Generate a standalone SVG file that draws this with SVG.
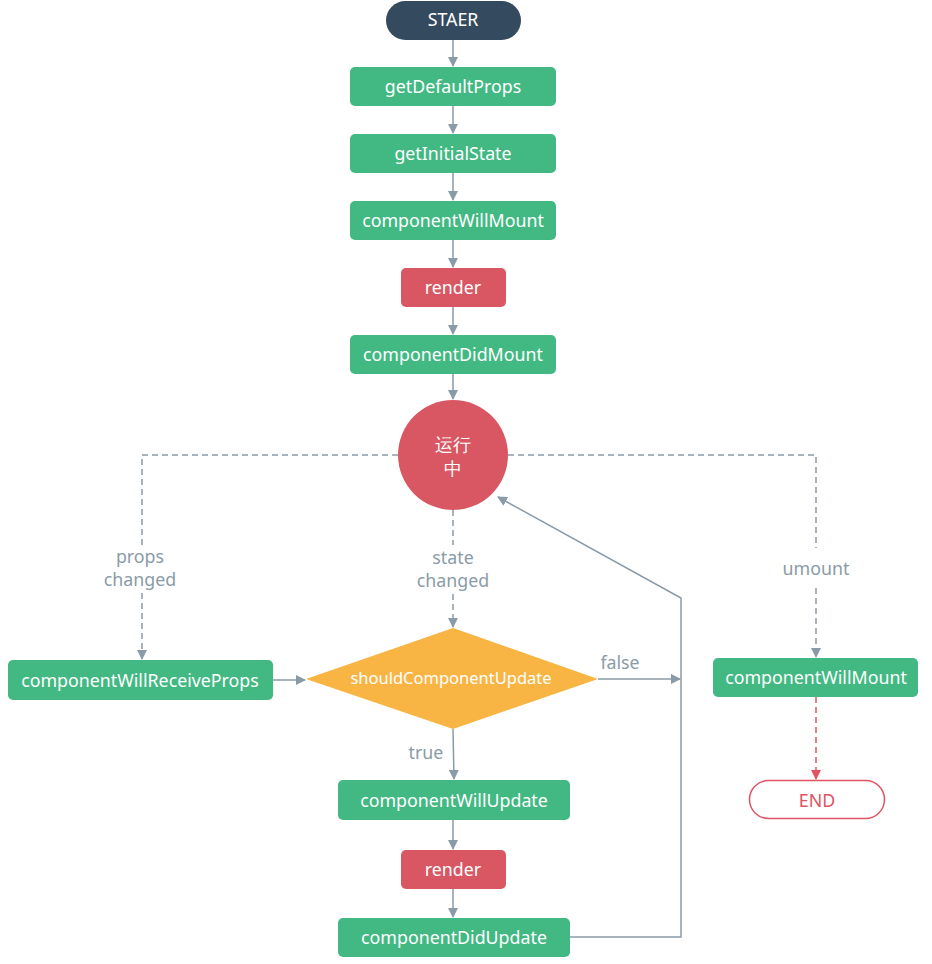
<svg xmlns="http://www.w3.org/2000/svg" width="932" height="964" viewBox="0 0 932 964">
<defs>
<marker id="ah" viewBox="0 0 10 10" refX="9" refY="5" markerWidth="10" markerHeight="10" markerUnits="userSpaceOnUse" orient="auto"><path d="M0,0 L10,5 L0,10 z" fill="#8a9ba8"/></marker>
<marker id="ahr" viewBox="0 0 10 10" refX="9" refY="5" markerWidth="10" markerHeight="10" markerUnits="userSpaceOnUse" orient="auto"><path d="M0,0 L10,5 L0,10 z" fill="#e05563"/></marker>
</defs>
<style>
.g{fill:#42b983}
.r{fill:#d95763}
.t{font-family:"Noto Sans","Liberation Sans",sans-serif;font-size:17.8px;fill:#fff;text-anchor:middle;dominant-baseline:central}
.l{font-family:"Noto Sans","Liberation Sans",sans-serif;font-size:17.8px;fill:#8a9ba8;text-anchor:middle;dominant-baseline:central}
.c{fill:none;stroke:#8a9ba8;stroke-width:1.5}
.d{stroke-dasharray:6,4}
</style>
<rect width="932" height="964" fill="#fff"/>
<g id="connectors">
<line class="c" x1="453" y1="40" x2="453" y2="66" marker-end="url(#ah)"/>
<line class="c" x1="453" y1="106" x2="453" y2="133" marker-end="url(#ah)"/>
<line class="c" x1="453" y1="173" x2="453" y2="200" marker-end="url(#ah)"/>
<line class="c" x1="453" y1="240" x2="453" y2="267" marker-end="url(#ah)"/>
<line class="c" x1="453" y1="307" x2="453" y2="334" marker-end="url(#ah)"/>
<line class="c" x1="453" y1="374" x2="453" y2="399" marker-end="url(#ah)"/>
<path class="c d" d="M398,455 H142 V545"/>
<path class="c d" d="M142,593 V659" marker-end="url(#ah)"/>
<path class="c d" d="M453,510 V545"/>
<path class="c d" d="M453,594 V627" marker-end="url(#ah)"/>
<path class="c d" d="M508,455 H816 V548"/>
<path class="c d" d="M816,588 V657" marker-end="url(#ah)"/>
<line class="c" x1="273" y1="680" x2="305" y2="680" marker-end="url(#ah)"/>
<line class="c" x1="598" y1="679" x2="680" y2="679" marker-end="url(#ah)"/>
<line class="c" x1="453" y1="729" x2="454" y2="779" marker-end="url(#ah)"/>
<line class="c" x1="453" y1="820" x2="453" y2="849" marker-end="url(#ah)"/>
<line class="c" x1="453" y1="889" x2="453" y2="917" marker-end="url(#ah)"/>
<path class="c" d="M570,937 H681 V598 L498,497" marker-end="url(#ah)"/>
<line x1="816" y1="697" x2="816" y2="779" stroke="#e05563" stroke-width="1.5" stroke-dasharray="6,4" marker-end="url(#ahr)"/>
<text class="l" x="140" y="556">props</text>
<text class="l" x="140" y="579">changed</text>
<text class="l" x="453" y="557">state</text>
<text class="l" x="453" y="580">changed</text>
<text class="l" x="816" y="568">umount</text>
<text class="l" x="620" y="662">false</text>
<text class="l" x="426" y="752">true</text>
</g>
<g id="start"><rect x="386" y="1" width="135" height="39" rx="19.5" fill="#344a5e"/><text class="t" x="453" y="19">STAER</text></g>
<g id="getDefaultProps"><rect class="g" x="350" y="67" width="206" height="39" rx="5"/><text class="t" x="453" y="85.5">getDefaultProps</text></g>
<g id="getInitialState"><rect class="g" x="350" y="134" width="206" height="39" rx="5"/><text class="t" x="453" y="152.5">getInitialState</text></g>
<g id="componentWillMount"><rect class="g" x="350" y="201" width="206" height="39" rx="5"/><text class="t" x="453" y="219.5">componentWillMount</text></g>
<g id="render1"><rect class="r" x="401" y="268" width="105" height="39" rx="5"/><text class="t" x="453" y="286.5">render</text></g>
<g id="componentDidMount"><rect class="g" x="350" y="335" width="206" height="39" rx="5"/><text class="t" x="453" y="353.5">componentDidMount</text></g>
<g id="running"><circle class="r" cx="453" cy="455" r="55"/><text class="t" x="453" y="444" font-family="Noto Sans CJK SC,sans-serif">运行</text><text class="t" x="453" y="468" font-family="Noto Sans CJK SC,sans-serif">中</text></g>
<g id="componentWillReceiveProps"><rect class="g" x="8" y="660" width="265" height="40" rx="5"/><text class="t" x="140" y="679.5">componentWillReceiveProps</text></g>
<g id="shouldComponentUpdate"><polygon points="306,679 453,628 598,679 453,729" fill="#f8b544"/><text class="t" x="451" y="677.5" style="font-size:16.5px">shouldComponentUpdate</text></g>
<g id="componentWillUpdate"><rect class="g" x="338" y="780" width="232" height="40" rx="5"/><text class="t" x="454" y="799.5">componentWillUpdate</text></g>
<g id="render2"><rect class="r" x="401" y="850" width="105" height="39" rx="5"/><text class="t" x="453" y="868.5">render</text></g>
<g id="componentDidUpdate"><rect class="g" x="338" y="918" width="232" height="39" rx="5"/><text class="t" x="454" y="936.5">componentDidUpdate</text></g>
<g id="componentWillMount2"><rect class="g" x="713" y="658" width="205" height="39" rx="5"/><text class="t" x="816" y="676.5">componentWillMount</text></g>
<g id="end"><rect x="749.5" y="780.5" width="135" height="38" rx="19" fill="#fff" stroke="#e05563" stroke-width="1.5"/><text class="t" x="817" y="799.5" style="fill:#e05563">END</text></g>
</svg>
